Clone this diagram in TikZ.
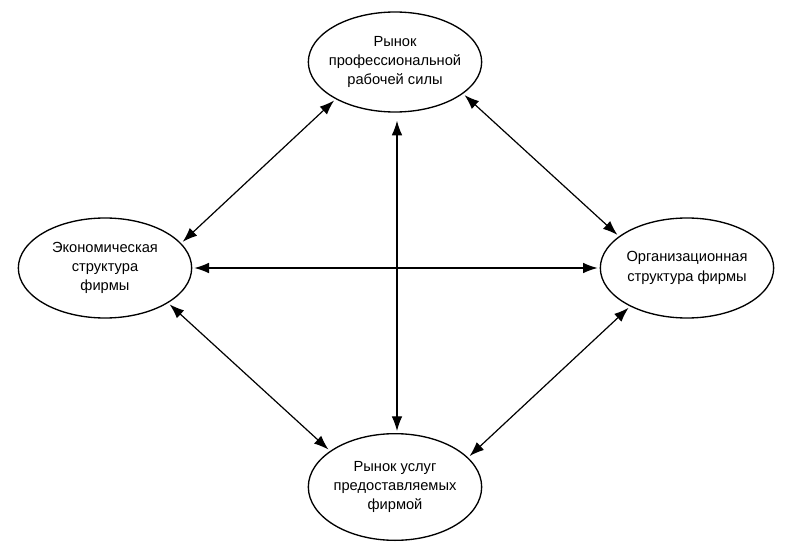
\documentclass[tikz,border=0pt]{standalone}
\usepackage{fontspec}
\setmainfont{Liberation Sans}
\usetikzlibrary{shapes.geometric,arrows.meta}

\begin{document}
\begin{tikzpicture}[x=0.75pt, y=-0.75pt,
	block/.style={draw, ellipse, line width=1pt, inner sep=-16pt, align=center,
		minimum width=130pt, minimum height=75pt, font=\fontsize{11}{14.5}\selectfont},
	link/.style={{Latex[length=11pt,width=8pt]}-{Latex[length=11pt,width=8pt]},
		line width=0.9pt, shorten <=1.5pt, shorten >=1.5pt}]
			\useasboundingbox (0,0) rectangle (800,560);
			\node[block] (labour) at (395,62) {Рынок\\профессиональной\\рабочей силы};
			\node[block] (econ) at (105,268) {Экономическая\\структура\\фирмы};
			\node[block] (org) at (687,268) {Организационная\\структура фирмы};
			\node[block, minimum height=80pt] (services) at (395,487) {Рынок услуг\\предоставляемых\\фирмой};
			% connectors
			\draw[link] (econ.18) -- (labour.212);
			\draw[link] (labour.335) -- (org.155);
			\draw[link] (econ.331) -- (services.151);
			\draw[link] (services.22) -- (org.214);
			\draw[link] (econ.east) -- (org.west);
			\draw[link, shorten <=6pt] ([xshift=1.5pt]labour.south) -- ([xshift=1.5pt]services.north);
		\end{tikzpicture}
\end{document}
